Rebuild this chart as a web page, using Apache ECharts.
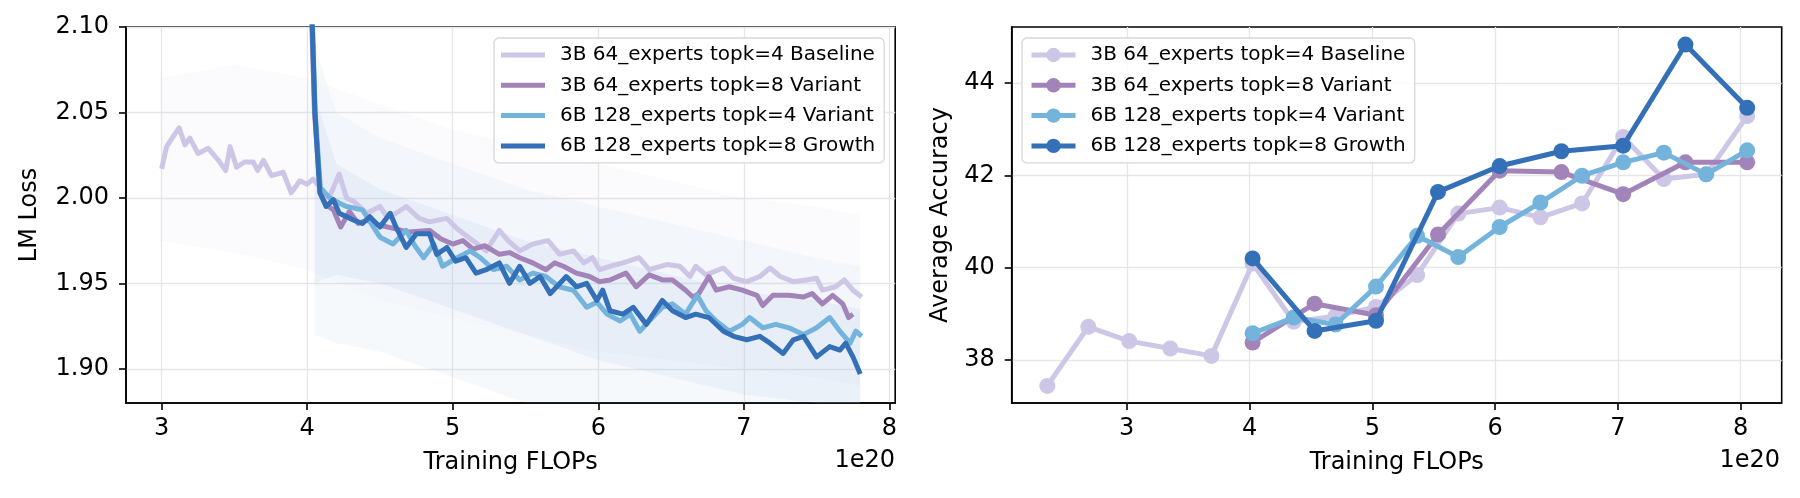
<!DOCTYPE html>
<html>
<head>
<meta charset="utf-8">
<script src="https://cdn.jsdelivr.net/npm/echarts@6/dist/echarts.min.js"></script>
<style>
  html, body { margin: 0; padding: 0; background: #fff; }
  #loss { position: absolute; left: 0; top: 0; width: 900px; height: 498px; }
  #acc { position: absolute; left: 900px; top: 0; width: 900px; height: 498px; }
</style>
</head>
<body>
<div id="loss"></div>
<div id="acc"></div>
<script>
const names = [
  '3B 64_experts topk=4 Baseline',
  '3B 64_experts topk=8 Variant',
  '6B 128_experts topk=4 Variant',
  '6B 128_experts topk=8 Growth'
];
const colors = ['#cec6e6', '#a384b9', '#74b4dc', '#3470b8'];

// ---- left panel: smoothed LM loss, [FLOPs/1e20, loss]
const lossBaseline = [
  [3.00, 2.017], [3.034, 2.030], [3.08, 2.036], [3.12, 2.041], [3.16, 2.031], [3.194, 2.035],
  [3.25, 2.026], [3.32, 2.029], [3.39, 2.022], [3.44, 2.016], [3.47, 2.030], [3.515, 2.018],
  [3.57, 2.021], [3.63, 2.021], [3.66, 2.016], [3.70, 2.022], [3.755, 2.013], [3.835, 2.015],
  [3.89, 2.003], [3.95, 2.010], [4.00, 2.008], [4.04, 2.011], [4.10, 2.005], [4.15, 2.000],
  [4.22, 2.014], [4.27, 2.000], [4.32, 1.998], [4.41, 1.991], [4.50, 1.995], [4.55, 1.989],
  [4.61, 1.991], [4.68, 1.995], [4.77, 1.988], [4.84, 1.986], [4.96, 1.988], [5.03, 1.982],
  [5.14, 1.975], [5.23, 1.969], [5.32, 1.981], [5.38, 1.975], [5.46, 1.969], [5.55, 1.973],
  [5.655, 1.975], [5.735, 1.967], [5.83, 1.969], [5.90, 1.962], [5.96, 1.965], [6.01, 1.958],
  [6.08, 1.960], [6.17, 1.962], [6.28, 1.965], [6.35, 1.958], [6.47, 1.961], [6.56, 1.960],
  [6.63, 1.954], [6.67, 1.960], [6.74, 1.955], [6.86, 1.959], [6.93, 1.953], [7.02, 1.951],
  [7.11, 1.954], [7.18, 1.959], [7.25, 1.954], [7.34, 1.951], [7.43, 1.952], [7.50, 1.953],
  [7.54, 1.946], [7.63, 1.948], [7.69, 1.952], [7.75, 1.946], [7.81, 1.942]
];
const lossVariant8 = [
  [4.015, 2.15], [4.05, 2.05], [4.09, 2.003], [4.13, 1.996], [4.18, 1.993], [4.23, 1.983],
  [4.29, 1.992], [4.35, 1.985], [4.41, 1.987], [4.50, 1.984], [4.60, 1.982], [4.70, 1.980],
  [4.84, 1.981], [4.92, 1.976], [5.00, 1.973], [5.07, 1.975], [5.14, 1.970], [5.22, 1.972],
  [5.32, 1.967], [5.39, 1.968], [5.46, 1.965], [5.55, 1.962], [5.64, 1.958], [5.70, 1.962],
  [5.76, 1.960], [5.85, 1.956], [5.94, 1.954], [6.01, 1.951], [6.08, 1.952], [6.19, 1.956],
  [6.26, 1.948], [6.35, 1.955], [6.44, 1.952], [6.51, 1.952], [6.60, 1.946], [6.65, 1.942],
  [6.69, 1.944], [6.76, 1.954], [6.81, 1.946], [6.90, 1.948], [6.99, 1.946], [7.09, 1.943],
  [7.13, 1.937], [7.20, 1.943], [7.31, 1.943], [7.41, 1.942], [7.47, 1.944], [7.54, 1.938],
  [7.61, 1.943], [7.68, 1.938], [7.72, 1.930], [7.75, 1.932]
];
const lossVariant4 = [
  [4.015, 2.16], [4.055, 2.05], [4.09, 2.006], [4.155, 2.000], [4.22, 1.997], [4.27, 1.995],
  [4.38, 1.993], [4.44, 1.985], [4.50, 1.977], [4.59, 1.973], [4.68, 1.981], [4.74, 1.972],
  [4.80, 1.965], [4.87, 1.973], [4.93, 1.960], [5.03, 1.965], [5.12, 1.969], [5.19, 1.965],
  [5.28, 1.958], [5.37, 1.960], [5.46, 1.952], [5.55, 1.956], [5.64, 1.954], [5.73, 1.948],
  [5.83, 1.946], [5.92, 1.936], [5.99, 1.939], [6.06, 1.932], [6.15, 1.928], [6.22, 1.932],
  [6.285, 1.922], [6.35, 1.928], [6.44, 1.936], [6.51, 1.938], [6.60, 1.932], [6.68, 1.943],
  [6.74, 1.934], [6.81, 1.928], [6.90, 1.922], [6.99, 1.926], [7.04, 1.930], [7.13, 1.924],
  [7.22, 1.926], [7.31, 1.924], [7.41, 1.920], [7.50, 1.924], [7.59, 1.930], [7.66, 1.922],
  [7.73, 1.915], [7.77, 1.922], [7.81, 1.919]
];
const lossGrowth = [
  [4.01, 2.17], [4.053, 2.05], [4.087, 2.003], [4.13, 1.995], [4.18, 1.999], [4.22, 1.991],
  [4.32, 1.987], [4.38, 1.985], [4.43, 1.989], [4.50, 1.983], [4.57, 1.991], [4.61, 1.983],
  [4.68, 1.971], [4.75, 1.979], [4.84, 1.979], [4.89, 1.967], [4.96, 1.971], [5.02, 1.963],
  [5.09, 1.965], [5.16, 1.956], [5.23, 1.958], [5.32, 1.962], [5.39, 1.950], [5.46, 1.960],
  [5.53, 1.950], [5.60, 1.954], [5.67, 1.944], [5.78, 1.954], [5.85, 1.948], [5.92, 1.950],
  [5.99, 1.940], [6.03, 1.946], [6.08, 1.934], [6.17, 1.932], [6.24, 1.936], [6.33, 1.926],
  [6.44, 1.940], [6.51, 1.934], [6.60, 1.930], [6.67, 1.932], [6.76, 1.930], [6.86, 1.922],
  [6.93, 1.919], [7.02, 1.917], [7.11, 1.919], [7.18, 1.915], [7.27, 1.909], [7.34, 1.917],
  [7.41, 1.919], [7.50, 1.907], [7.59, 1.913], [7.66, 1.911], [7.70, 1.915], [7.75, 1.907],
  [7.80, 1.897]
];

// spread of the raw (unsmoothed) loss: lower and upper envelopes
const rawBaseX = [3.0, 3.5, 4.0, 4.5, 5.0, 5.5, 6.0, 6.5, 7.0, 7.5, 7.8];
const rawBaseLow = [1.975, 1.968, 1.958, 1.94, 1.93, 1.92, 1.91, 1.905, 1.90, 1.895, 1.89];
const rawBaseHigh = [2.07, 2.078, 2.07, 2.055, 2.04, 2.03, 2.02, 2.01, 2.0, 1.995, 1.99];
const rawLargeX = [4.05, 4.2, 4.5, 5.0, 5.5, 6.0, 6.5, 7.0, 7.5, 7.8];
const rawLargeLow = [1.92, 1.915, 1.91, 1.895, 1.88, 1.87, 1.86, 1.855, 1.85, 1.85];
const rawLargeHigh = [2.09, 2.05, 2.035, 2.02, 2.005, 1.995, 1.985, 1.975, 1.965, 1.96];
// where most raw points of the larger runs fall
const coreLargeLow = [1.95, 1.955, 1.95, 1.935, 1.92, 1.905, 1.895, 1.885, 1.875, 1.87];
const coreLargeHigh = [2.06, 2.02, 2.005, 1.99, 1.975, 1.965, 1.955, 1.945, 1.94, 1.935];

// ---- right panel: average accuracy
const accBaselineX = [2.353, 2.687, 3.02, 3.355, 3.69, 4.025, 4.36, 4.70, 5.03, 5.365, 5.70, 6.037, 6.369, 6.708, 7.043, 7.374, 7.719, 8.053];
const accBaselineY = [37.44, 38.72, 38.41, 38.25, 38.09, 40.09, 38.83, 38.95, 39.15, 39.84, 41.17, 41.30, 41.09, 41.39, 42.83, 41.92, 42.02, 43.28];
const accVariant8X = [4.025, 4.53, 5.03, 5.535, 6.037, 6.54, 7.043, 7.55, 8.053];
const accVariant8Y = [38.38, 39.22, 38.97, 40.72, 42.10, 42.07, 41.59, 42.28, 42.28];
const accVariant4X = [4.025, 4.36, 4.70, 5.03, 5.365, 5.70, 6.037, 6.369, 6.708, 7.043, 7.374, 7.719, 8.053];
const accVariant4Y = [38.58, 38.92, 38.77, 39.59, 40.69, 40.23, 40.88, 41.41, 41.99, 42.28, 42.49, 42.02, 42.54];
const accGrowthX = [4.025, 4.53, 5.03, 5.535, 6.037, 6.54, 7.043, 7.55, 8.053];
const accGrowthY = [40.20, 38.63, 38.85, 41.64, 42.20, 42.52, 42.64, 44.83, 43.46];

const xTicks = [3, 4, 5, 6, 7, 8];
const lossTicks = [1.90, 1.95, 2.00, 2.05, 2.10];
const accTicks = [38, 40, 42, 44];

const FONT = 'DejaVu Sans';

function pairs(xs, ys) {
  return xs.map((x, i) => [x, ys[i]]);
}

function axisCommon(ticks) {
  return {
    axisLine: {show: true, onZero: false, lineStyle: {color: '#000', width: 1.6}},
    axisTick: {show: true, length: 7, customValues: ticks, lineStyle: {color: '#000', width: 1.6}},
    splitLine: {show: true, lineStyle: {color: '#e6e6e6', width: 1.3}},
    nameTextStyle: {fontSize: 24, fontFamily: FONT, color: '#000'}
  };
}

function legendBox(left, iconH, icon) {
  const l = {
    orient: 'vertical',
    left: left,
    top: 38,
    itemWidth: 44,
    itemHeight: iconH,
    itemGap: 10.3,
    data: names,
    selectedMode: false,
    backgroundColor: 'rgba(255,255,255,0.85)',
    borderColor: '#d8d8d8',
    borderWidth: 1.3,
    borderRadius: 5,
    padding: [7, 9, 7, 7],
    lineStyle: {width: 5},
    textStyle: {fontSize: 20, lineHeight: 20, fontFamily: FONT, color: '#000', padding: [0, 0, 0, 10]}
  };
  if (icon) l.icon = icon;
  return l;
}

// faint band showing the spread of the raw values, drawn through the axes
function band(xs, low, high, color, opacity) {
  return {
    type: 'custom', silent: true, z: 1,
    data: xs.map((x, i) => [x, low[i], high[i]]),
    encode: {x: 0, y: [1, 2]},
    renderItem: (params, api) => {
      if (params.dataIndex !== 0) return;
      const top = xs.map((x, i) => api.coord([x, high[i]]));
      const bot = xs.map((x, i) => api.coord([x, low[i]])).reverse();
      const pts = echarts.graphic.clipPointsByRect(top.concat(bot), params.coordSys);
      return {type: 'polygon', shape: {points: pts}, style: {fill: color, opacity: opacity}};
    }
  };
}

// ---------- left chart
const lossChart = echarts.init(document.getElementById('loss'), null, {renderer: 'canvas'});
const lossSmooth = [lossBaseline, lossVariant8, lossVariant4, lossGrowth];
lossChart.setOption({
  animation: false,
  grid: {left: 126, right: 4, top: 27, bottom: 95, show: true, borderColor: '#000', borderWidth: 1.6},
  legend: legendBox(494, 5, 'rect'),
  xAxis: Object.assign(axisCommon(xTicks), {
    type: 'value', min: 2.755, max: 8.04,
    axisLabel: {customValues: xTicks, margin: 14, fontSize: 24, fontFamily: FONT, color: '#000'},
    name: 'Training FLOPs', nameLocation: 'middle', nameGap: 48
  }),
  yAxis: Object.assign(axisCommon(lossTicks), {
    type: 'value', min: 1.88, max: 2.10,
    axisLabel: {customValues: lossTicks, formatter: v => v.toFixed(2), margin: 17, fontSize: 24, fontFamily: FONT, color: '#000'},
    name: 'LM Loss', nameLocation: 'middle', nameGap: 84
  }),
  graphic: [{type: 'text', right: 5, top: 449, style: {text: '1e20', fontSize: 24, fontFamily: FONT, fill: '#000'}}],
  series: [
    band(rawBaseX, rawBaseLow, rawBaseHigh, '#cec6e6', 0.08),
    band(rawLargeX, rawLargeLow, rawLargeHigh, '#a6c6e4', 0.1),
    band(rawLargeX, coreLargeLow, coreLargeHigh, '#a6c6e4', 0.16)
  ].concat(lossSmooth.map((d, i) => ({
    name: names[i], type: 'line', data: d, showSymbol: false, z: 3 + i,
    itemStyle: {color: colors[i]},
    lineStyle: {color: colors[i], width: 5, join: 'round'}
  })))
});

// ---------- right chart
const accChart = echarts.init(document.getElementById('acc'), null, {renderer: 'canvas'});
const accData = [
  pairs(accBaselineX, accBaselineY),
  pairs(accVariant8X, accVariant8Y),
  pairs(accVariant4X, accVariant4Y),
  pairs(accGrowthX, accGrowthY)
];
accChart.setOption({
  animation: false,
  grid: {left: 111.7, right: 18.3, top: 27, bottom: 95, show: true, borderColor: '#000', borderWidth: 1.6},
  legend: legendBox(122, 18, null),
  xAxis: Object.assign(axisCommon(xTicks), {
    type: 'value', min: 2.063, max: 8.334,
    axisLabel: {customValues: xTicks, margin: 14, fontSize: 24, fontFamily: FONT, color: '#000'},
    name: 'Training FLOPs', nameLocation: 'middle', nameGap: 48
  }),
  yAxis: Object.assign(axisCommon(accTicks), {
    type: 'value', min: 37.07, max: 45.21,
    axisLabel: {customValues: accTicks, margin: 17, fontSize: 24, fontFamily: FONT, color: '#000'},
    name: 'Average Accuracy', nameLocation: 'middle', nameGap: 56
  }),
  graphic: [{type: 'text', right: 20, top: 449, style: {text: '1e20', fontSize: 24, fontFamily: FONT, fill: '#000'}}],
  series: accData.map((d, i) => ({
    name: names[i], type: 'line', data: d, symbol: 'circle', symbolSize: 16, z: 3 + i,
    itemStyle: {color: colors[i]},
    lineStyle: {color: colors[i], width: 5}
  }))
});
</script>
</body>
</html>
